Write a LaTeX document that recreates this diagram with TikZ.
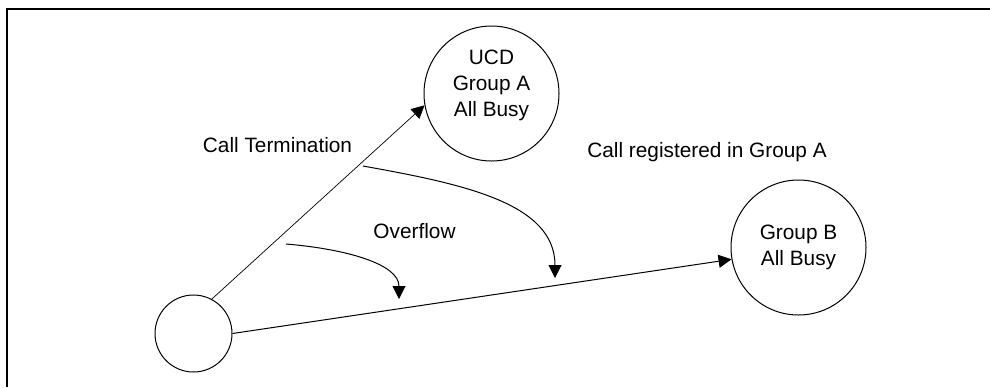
\documentclass[tikz,border=0pt]{standalone}
\usepackage{fontspec}
\setmainfont{Liberation Sans}
\usetikzlibrary{arrows.meta}
\tikzset{
  state/.style={draw, circle, line width=0.5pt, inner sep=0pt, minimum size=67.5pt},
  statetext/.style={align=center, inner sep=0pt, font=\fontsize{10.4}{13}\selectfont},
  lbl/.style={anchor=base, inner sep=0pt, font=\fontsize{10.4}{13}\selectfont},
  flow/.style={line width=0.5pt, -{Triangle[length=6.5pt, width=6.5pt]}},
}
\begin{document}
\begin{tikzpicture}[x=0.5pt, y=-0.5pt]
  \useasboundingbox (0,0) rectangle (990,387);
  \draw[line width=1pt] (7,387) -- (7,9) -- (990,9);
  \node[state, minimum size=38.5pt] (caller) at (193.5,333.5) {};
  \node[state] (ucd) at (491.5,93.5) {};
  \node[statetext] (ucdtext) at (491.5,85.5) {UCD\\Group A\\All Busy};
  \node[state] (grpb) at (798.5,247.5) {};
  \node[statetext] (grpbtext) at (798.5,247.5) {Group B\\All Busy};
  \draw[flow, line width=0.35pt] (caller.62) -- (ucd.190);
  \draw[flow] (caller.0) -- (grpb.190);
  \coordinate (regstart) at (363,166);
  \coordinate (regend) at (555,278);
  \draw[flow] (regstart) .. controls +(100,18) and +(0,-75) .. (regend);
  \coordinate (ovfstart) at (286,244);
  \coordinate (ovfend) at (399,299);
  \draw[flow] (ovfstart) .. controls +(60,5) and +(0,-35) .. (ovfend);
  \node[lbl] (termlabel) at (277.5,152) {Call Termination};
  \node[lbl, anchor=base west] (reglabel) at (587,157) {Call registered in Group A};
  \node[lbl] (ovflabel) at (414.5,238) {Overflow};
\end{tikzpicture}
\end{document}
